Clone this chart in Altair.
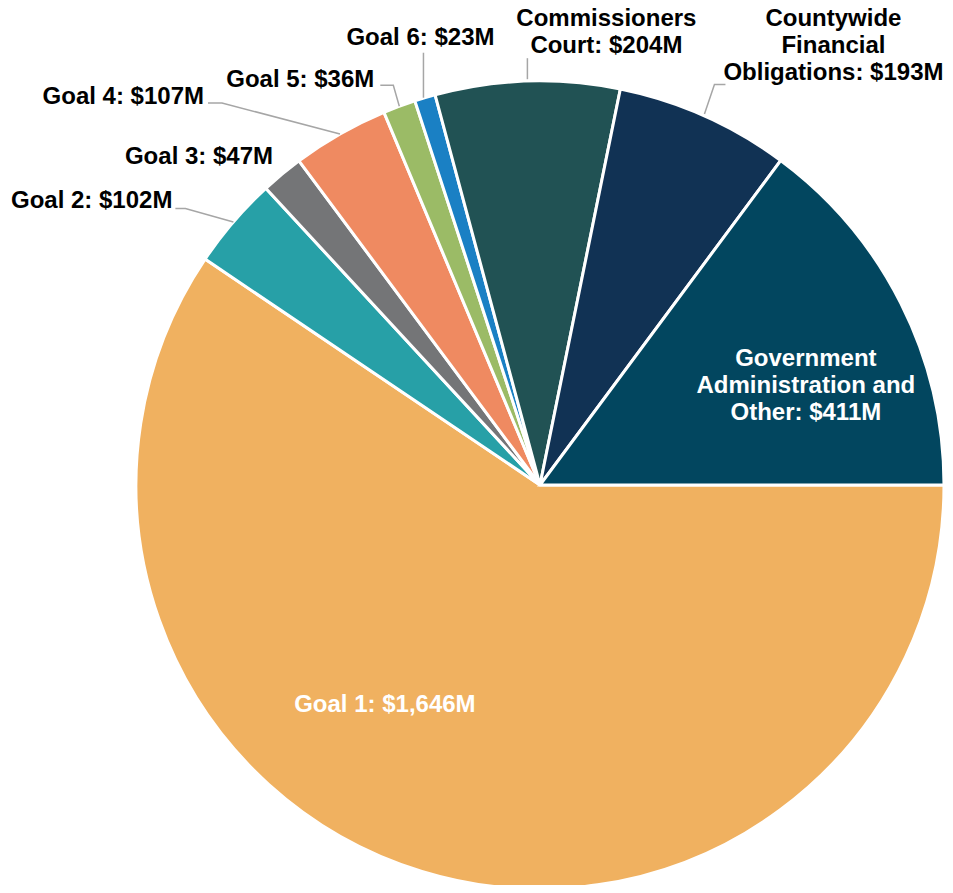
import math
import altair as alt
import pandas as pd

# ---- data ----
categories = ["Goal 1", "Goal 2", "Goal 3", "Goal 4", "Goal 5", "Goal 6",
              "Commissioners Court", "Countywide Financial Obligations",
              "Government Administration and Other"]
values = [1646, 102, 47, 107, 36, 23, 204, 193, 411]
label_lines = [
    ["Goal 1: $1,646M"],
    ["Goal 2: $102M"],
    ["Goal 3: $47M"],
    ["Goal 4: $107M"],
    ["Goal 5: $36M"],
    ["Goal 6: $23M"],
    ["Commissioners", "Court: $204M"],
    ["Countywide", "Financial", "Obligations: $193M"],
    ["Government", "Administration and", "Other: $411M"],
]
colors = ["#F0B160", "#27A0A7", "#747577", "#EF8A61", "#9BBB66",
          "#1A80C4", "#215254", "#113254", "#02465F"]

# ---- layout (styling / annotation placement) ----
CX, CY, R = 532, 477, 404
START = math.pi / 2
LINE_H = 27
FONT = "Liberation Sans"
FONT_SIZE = 24
# label anchor offset relative to the slice's outer-edge midpoint, align, colour, leader points
layout = {
    "Goal 1": (-37, -159, "center", "white", []),
    "Goal 2": (-61, -14, "right", "black", [(0, 0), (-48, -13.5), (-58, -13.5)]),
    "Goal 3": (-9, -10, "right", "black", []),
    "Goal 4": (-136, -30, "right", "black", [(0, 0), (-118, -31), (-132, -31)]),
    "Goal 5": (-25, -19, "right", "black", [(0, 0), (-6, -21), (-19, -21)]),
    "Goal 6": (-4.5, -53, "center", "black", [(-1.5, 0), (-1.5, -45)]),
    "Commissioners Court": (79, -55, "center", "black", [(0, -2), (0, -23)]),
    "Countywide Financial Obligations": (129, -90, "center", "black",
                                         [(0, -2), (10, -31.5), (21, -31.5)]),
    "Government Administration and Other": (-95, 62.5, "center", "white", []),
}

total = sum(values)
pie = pd.DataFrame({"cat": categories, "value": values, "idx": range(len(values))})

text_rows, leader_rows = [], []
cum = 0.0
for cat, v, lines in zip(categories, values, label_lines):
    mid = START + 2 * math.pi * (cum + v / 2) / total
    cum += v
    ex = CX + R * math.sin(mid)
    ey = CY - R * math.cos(mid)
    dx, dy, align, col, pts = layout[cat]
    for i, line in enumerate(lines):
        text_rows.append({"text": line, "px": ex + dx, "py": ey + dy + i * LINE_H,
                          "align": align, "col": col})
    for j, (ox, oy) in enumerate(pts):
        leader_rows.append({"cat": cat, "pt": j, "px": ex + ox, "py": ey + oy})

texts = pd.DataFrame(text_rows)
leaders = pd.DataFrame(leader_rows)

arcs = alt.Chart(pie).mark_arc(radius=R, stroke="white", strokeWidth=3).encode(
    theta=alt.Theta("value:Q", stack=True,
                    scale=alt.Scale(range=[START, START + 2 * math.pi])),
    color=alt.Color("cat:N", scale=alt.Scale(domain=categories, range=colors), legend=None),
    order=alt.Order("idx:Q"),
    x=alt.value(CX),
    y=alt.value(CY),
)

lead = alt.Chart(leaders).mark_line(color="#A6A6A6", strokeWidth=1.5).encode(
    x=alt.X("px:Q", scale=None),
    y=alt.Y("py:Q", scale=None),
    detail="cat:N",
    order="pt:Q",
)

def text_layer(al):
    return alt.Chart(texts).transform_filter(alt.datum.align == al).mark_text(
        align=al, baseline="alphabetic", font=FONT, fontSize=FONT_SIZE, fontWeight="bold"
    ).encode(
        x=alt.X("px:Q", scale=None),
        y=alt.Y("py:Q", scale=None),
        text="text:N",
        color=alt.Color("col:N", scale=None),
    )

chart = alt.layer(arcs, lead, text_layer("right"), text_layer("center")).properties(
    width=937, height=877, padding=0, autosize="none", background="white"
).configure_view(stroke=None)

chart.save("out.html", embed_options={"renderer": "svg", "actions": False})
